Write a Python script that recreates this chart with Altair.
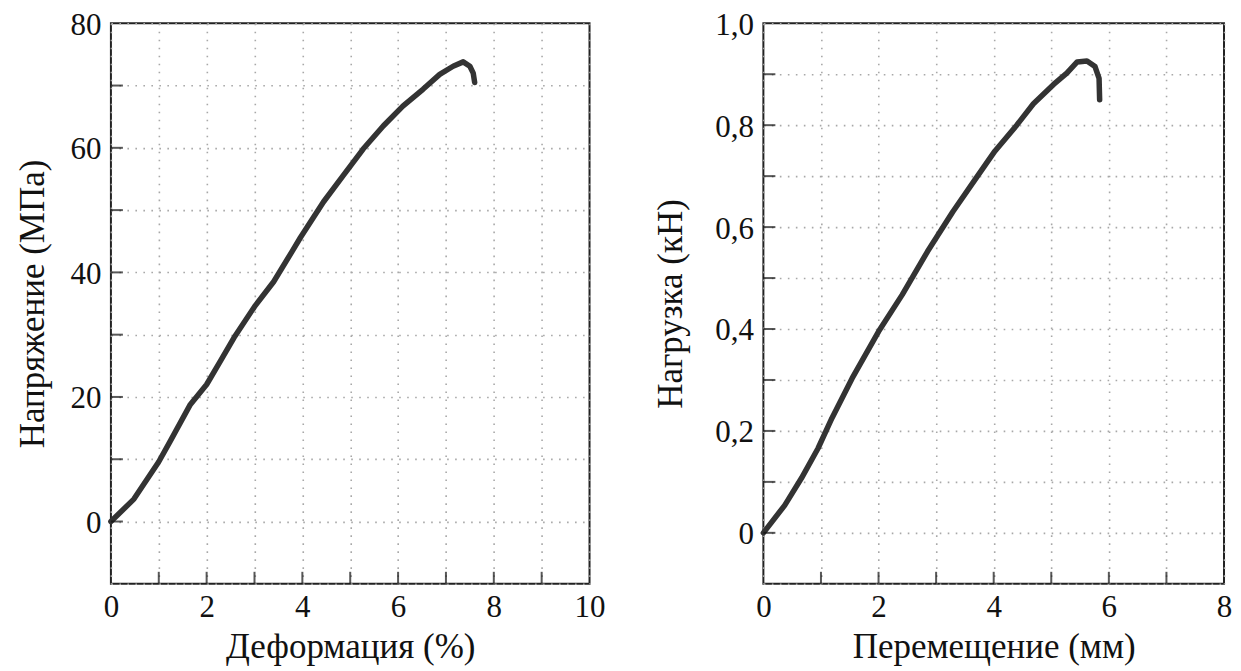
import altair as alt
import pandas as pd

# ---- data ----
strain = [0.0, 0.48, 1.0, 1.24, 1.66, 2.0, 2.29, 2.57, 3.0, 3.4, 3.78, 3.96, 4.44, 4.86,
          5.27, 5.69, 6.1, 6.52, 6.87, 7.15, 7.36, 7.5, 7.57, 7.6]
stress = [0.0, 3.6, 9.6, 12.9, 18.8, 22.0, 25.8, 29.5, 34.5, 38.5, 43.3, 45.6, 51.3, 55.6,
          59.8, 63.5, 66.7, 69.4, 71.8, 73.1, 73.8, 73.1, 72.0, 70.5]

disp = [0.0, 0.37, 0.66, 0.95, 1.19, 1.54, 2.0, 2.41, 2.85, 3.29, 3.70, 4.02, 4.40, 4.69,
        5.04, 5.27, 5.45, 5.62, 5.76, 5.83, 5.84]
load = [0.0, 0.054, 0.107, 0.166, 0.225, 0.303, 0.395, 0.467, 0.552, 0.63, 0.697, 0.749, 0.80,
        0.842, 0.88, 0.902, 0.924, 0.926, 0.915, 0.892, 0.85]

left_x_ticks = [1, 2, 3, 4, 5, 6, 7, 8, 9]
left_y_ticks = [0, 10, 20, 30, 40, 50, 60, 70]
right_x_ticks = [1, 2, 3, 4, 5, 6, 7]
right_y_ticks = [0, 0.1, 0.2, 0.3, 0.4, 0.5, 0.6, 0.7, 0.8, 0.9]

left_x_values = list(range(0, 11))
left_y_values = list(range(-10, 81, 10))
right_x_values = list(range(0, 9))
right_y_values = [-0.1, 0, 0.1, 0.2, 0.3, 0.4, 0.5, 0.6, 0.7, 0.8, 0.9, 1.0]

LINE = "#333333"
FONT = "Liberation Serif"
LFS = 31
TFS = 35

grid_kw = dict(grid=True, gridColor="#a8a8a8", gridDash=[1.6, 6.4], gridWidth=1.6,
               domain=False, ticks=False)


def panel(xs, ys, xdom, ydom, xvals, yvals, xticks, yticks, xtitle, ytitle,
          xlabel_expr, ylabel_expr, w, h, yextent):
    xscale = alt.Scale(domain=xdom, nice=False, zero=False)
    yscale = alt.Scale(domain=ydom, nice=False, zero=False)
    xaxis = alt.Axis(values=xvals, labelExpr=xlabel_expr, title=xtitle,
                     labelPadding=9, titlePadding=7, **grid_kw)
    yaxis = alt.Axis(values=yvals, labelExpr=ylabel_expr, title=ytitle,
                     labelPadding=10, titlePadding=8,
                     labelBaseline="alphabetic", labelOffset=11,
                     minExtent=yextent, maxExtent=yextent, **grid_kw)

    df = pd.DataFrame({"x": xs, "y": ys, "i": range(len(xs))})
    line = alt.Chart(df).mark_line(color=LINE, strokeWidth=5.5, strokeJoin="round",
                                   strokeCap="round").encode(
        x=alt.X("x:Q", scale=xscale, axis=xaxis),
        y=alt.Y("y:Q", scale=yscale, axis=yaxis),
        order="i:Q",
    )
    xt = pd.DataFrame({"x": xticks, "y": [ydom[0]] * len(xticks)})
    xtick = alt.Chart(xt).mark_tick(orient="vertical", size=12, thickness=2,
                                    color="#111", yOffset=-6).encode(
        x=alt.X("x:Q", scale=xscale, axis=xaxis),
        y=alt.Y("y:Q", scale=yscale, axis=yaxis),
    )
    yt = pd.DataFrame({"x": [xdom[0]] * len(yticks), "y": yticks})
    ytick = alt.Chart(yt).mark_tick(orient="horizontal", size=12, thickness=2,
                                    color="#111", xOffset=6).encode(
        x=alt.X("x:Q", scale=xscale, axis=xaxis),
        y=alt.Y("y:Q", scale=yscale, axis=yaxis),
    )
    return alt.layer(line, xtick, ytick).properties(width=w, height=h)


left = panel(strain, stress, [0, 10], [-10, 80], left_x_values, left_y_values,
             left_x_ticks, left_y_ticks, "Деформация (%)", "Напряжение (МПа)",
             "datum.value % 2 == 0 ? datum.label : ''",
             "datum.value >= 0 && datum.value % 20 == 0 ? datum.label : ''",
             479, 561, 52)

right = panel(disp, load, [0, 8], [-0.1, 1.0], right_x_values, right_y_values,
              right_x_ticks, right_y_ticks, "Перемещение (мм)", "Нагрузка (кН)",
              "datum.value % 2 == 0 ? datum.label : ''",
              "datum.value == 0 ? '0' : (datum.value > 0 && round(datum.value * 10) % 2 == 0 ? replace(format(datum.value, '.1f'), '.', ',') : '')",
              461, 561, 67)

chart = alt.hconcat(left, right, spacing=46).properties(
    padding={"left": 7, "top": 0, "right": 0, "bottom": 0},
    background="white",
).configure_view(
    stroke="#222", strokeWidth=2
).configure_axis(
    labelFont=FONT, titleFont=FONT, labelFontSize=LFS, titleFontSize=TFS,
    titleFontWeight="normal", labelColor="#111", titleColor="#111",
    labelFlush=False, labelOverlap=False
)

chart.save("out.html", embed_options={"renderer": "svg", "actions": False})
